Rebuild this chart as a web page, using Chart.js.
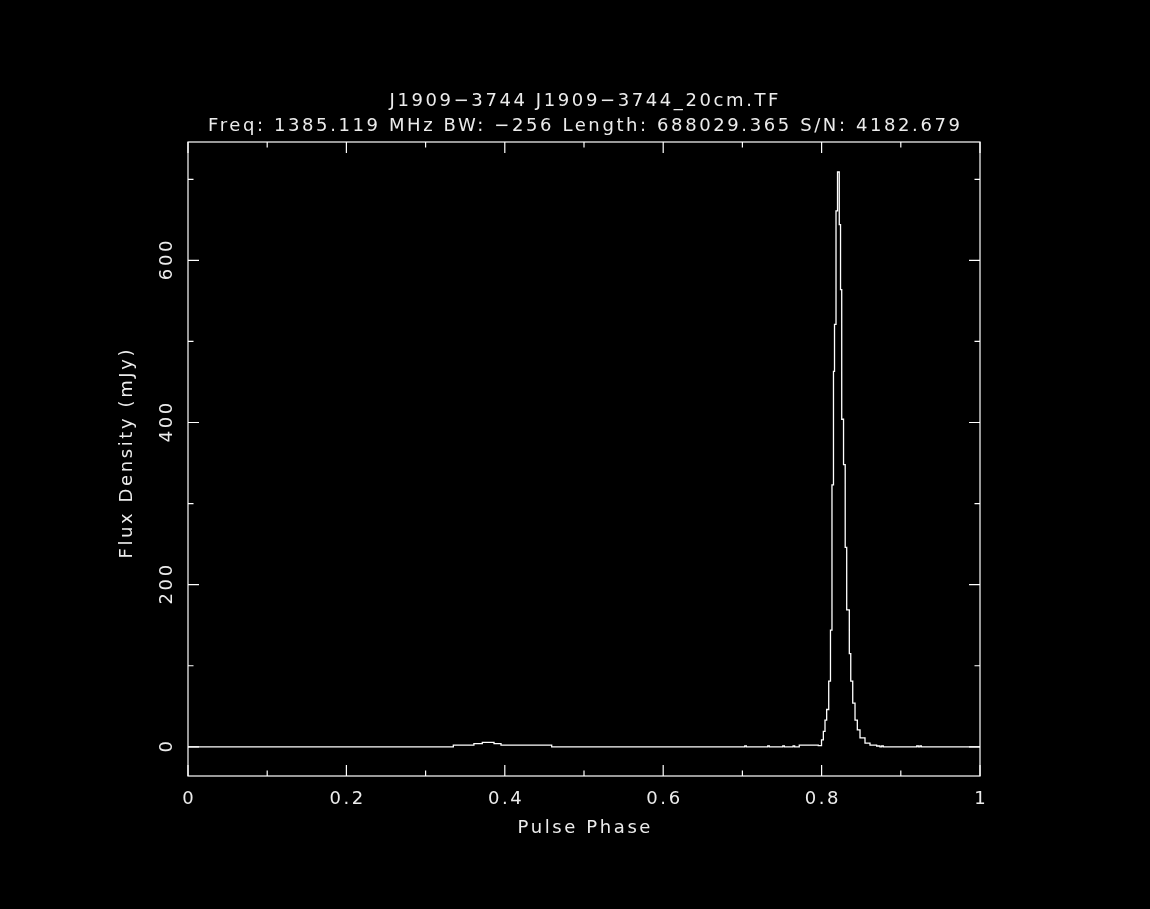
<!DOCTYPE html>
<html>
<head>
<meta charset="utf-8">
<script src="https://cdn.jsdelivr.net/npm/chart.js@4.4.1/dist/chart.umd.min.js"></script>
<style>
  html, body { margin: 0; padding: 0; background: #000; }
  #wrap { width: 1150px; height: 909px; }
</style>
</head>
<body>
<div id="wrap"><canvas id="profile" width="1150" height="909"></canvas></div>
<script>
// Pulse profile: each flux value holds from its phase to the next one
const phase = [0, 0.335, 0.361, 0.3716, 0.3864, 0.3952, 0.4592,
    0.703, 0.705, 0.732, 0.734, 0.751, 0.753, 0.764, 0.766, 0.7718,
    0.7958, 0.7999, 0.8022, 0.8043, 0.8064, 0.809, 0.8112, 0.8131, 0.815, 0.8163, 0.8182,
    0.8201, 0.8223, 0.8239, 0.8254, 0.8277, 0.8298, 0.8317, 0.835, 0.8368, 0.8393,
    0.8422, 0.8451, 0.8485, 0.8548, 0.8611, 0.8695, 0.8737,
    0.8759, 0.8779, 0.9201, 0.9221, 0.9241, 0.926, 1];
const flux = [0, 2, 4, 5.5, 4, 2, 0,
    1, 0, 1, 0, 1, 0, 1, 0, 2,
    1.5, 8.5, 19, 33, 46, 81, 144, 323, 463, 521, 661,
    709, 644, 564, 404, 348, 246, 169, 115, 81, 54,
    33, 21, 11, 4.5, 2, 1, 0,
    1, 0, 1, 0, 1, 0, 0];

const xMajorTicks = [0, 0.2, 0.4, 0.6, 0.8, 1];
const xTickLabels = ['0', '0.2', '0.4', '0.6', '0.8', '1'];
const xMinorTicks = [0.1, 0.3, 0.5, 0.7, 0.9];
const yMajorTicks = [0, 200, 400, 600];
const yTickLabels = ['0', '200', '400', '600'];
const yMinorTicks = [100, 300, 500, 700];

const titleLines = [
    'J1909\u22123744 J1909\u22123744_20cm.TF',
    'Freq: 1385.119 MHz BW: \u2212256 Length: 688029.365 S/N: 4182.679'
];
const xTitle = 'Pulse Phase';
const yTitle = 'Flux Density (mJy)';

const ink = '#ffffff';
const textInk = '#ececec';
const font = "18px 'DejaVu Sans'";
const spacing = 2.6;

// centred text; letterSpacing adds a trailing gap, so nudge by half of it
function drawText(ctx, text, x, y, rotated) {
    ctx.save();
    ctx.translate(x, y);
    if (rotated) ctx.rotate(-Math.PI / 2);
    ctx.fillText(text, spacing / 2, 0);
    ctx.restore();
}

// PGPLOT style frame: box, inward ticks on all four sides, labels
const pgFrame = {
    id: 'pgFrame',
    beforeDraw(chart) {
        const ctx = chart.ctx;
        ctx.save();
        ctx.fillStyle = '#000';
        ctx.fillRect(0, 0, chart.width, chart.height);
        ctx.restore();
    },
    afterDraw(chart) {
        const ctx = chart.ctx;
        const a = chart.chartArea;
        const xs = chart.scales.x;
        const ys = chart.scales.y;
        const major = 11, minor = 5.5;

        ctx.save();
        ctx.strokeStyle = ink;
        ctx.lineWidth = 1.2;
        ctx.strokeRect(a.left, a.top, a.right - a.left, a.bottom - a.top);

        ctx.beginPath();
        const xTick = (v, len) => {
            const px = xs.getPixelForValue(v);
            ctx.moveTo(px, a.bottom); ctx.lineTo(px, a.bottom - len);
            ctx.moveTo(px, a.top); ctx.lineTo(px, a.top + len);
        };
        const yTick = (v, len) => {
            const py = ys.getPixelForValue(v);
            ctx.moveTo(a.left, py); ctx.lineTo(a.left + len, py);
            ctx.moveTo(a.right, py); ctx.lineTo(a.right - len, py);
        };
        xMajorTicks.forEach(v => xTick(v, major));
        xMinorTicks.forEach(v => xTick(v, minor));
        yMajorTicks.forEach(v => yTick(v, major));
        yMinorTicks.forEach(v => yTick(v, minor));
        ctx.stroke();

        ctx.fillStyle = textInk;
        ctx.font = font;
        ctx.letterSpacing = spacing + 'px';
        ctx.textAlign = 'center';
        ctx.textBaseline = 'alphabetic';

        xMajorTicks.forEach((v, i) => {
            drawText(ctx, xTickLabels[i], xs.getPixelForValue(v), a.bottom + 28, false);
        });
        yMajorTicks.forEach((v, i) => {
            drawText(ctx, yTickLabels[i], a.left - 16, ys.getPixelForValue(v), true);
        });

        const cx = (a.left + a.right) / 2;
        drawText(ctx, xTitle, cx, a.bottom + 57, false);
        drawText(ctx, yTitle, a.left - 56, (a.top + a.bottom) / 2 - 5, true);
        drawText(ctx, titleLines[0], cx, a.top - 36, false);
        drawText(ctx, titleLines[1], cx, a.top - 11, false);
        ctx.restore();
    }
};

document.addEventListener('DOMContentLoaded', function() {
    const ctx = document.getElementById('profile').getContext('2d');
    new Chart(ctx, {
        type: 'line',
        data: {
            datasets: [{
                label: 'Profile',
                data: phase.map((p, i) => ({ x: p, y: flux[i] })),
                borderColor: ink,
                borderWidth: 1.3,
                stepped: true,
                pointRadius: 0,
                fill: false
            }]
        },
        options: {
            responsive: false,
            devicePixelRatio: 1,
            animation: false,
            layout: {
                padding: { left: 188, right: 170, top: 142, bottom: 133 }
            },
            scales: {
                x: { type: 'linear', min: 0, max: 1, display: false },
                y: { type: 'linear', min: -36, max: 746, display: false }
            },
            plugins: {
                legend: { display: false },
                tooltip: { enabled: false }
            }
        },
        plugins: [pgFrame]
    });
});
</script>
</body>
</html>
